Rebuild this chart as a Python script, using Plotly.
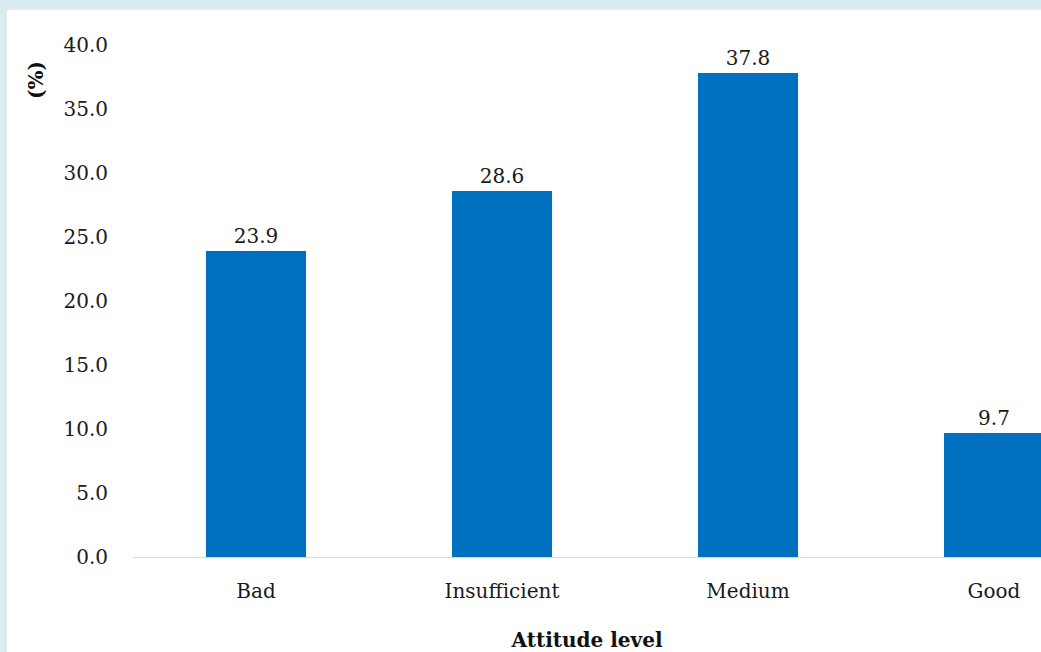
import plotly.graph_objects as go

# Attitude level distribution (%)
levels = ["Bad", "Insufficient", "Medium", "Good"]
percent = [23.9, 28.6, 37.8, 9.7]
y_ticks = [0, 5, 10, 15, 20, 25, 30, 35, 40]

W, H = 1041, 652
ML, MR, MT, MB = 133, 0, 45, 95
pw, ph = W - ML - MR, H - MT - MB
unit = 246.0  # pixels per category band
x_hi = -0.5 + pw / unit

serif = "DejaVu Serif"
FS = 20

fig = go.Figure(
    go.Bar(
        x=list(range(len(levels))),
        y=percent,
        width=0.41,
        marker=dict(color="#0070C0", line=dict(width=0)),
        text=[f"{v:.1f}" for v in percent],
        textposition="outside",
        textfont=dict(family=serif, size=FS, color="#1a1a1a"),
        cliponaxis=False,
    )
)

# white panel on the light-blue page
fig.add_shape(
    type="rect", xref="paper", yref="paper", layer="below",
    x0=(7 - ML) / pw, x1=1.01, y0=-(MB + 5) / ph, y1=(ph + MT - 10) / ph,
    fillcolor="white", line=dict(width=0),
)

fig.add_annotation(
    text="<b>(%)</b>", xref="paper", yref="paper",
    x=(36 - ML) / pw, y=(557 - 80) / ph, showarrow=False, textangle=-90,
    xanchor="center", yanchor="middle",
    font=dict(family=serif, size=FS, color="#111"),
)

fig.update_layout(
    width=W, height=H,
    margin=dict(l=ML, r=MR, t=MT, b=MB),
    paper_bgcolor="#DAECF2",
    plot_bgcolor="white",
    showlegend=False,
    bargap=0,
    xaxis=dict(
        range=[-0.5, x_hi],
        tickmode="array",
        tickvals=list(range(len(levels))),
        ticktext=levels,
        showgrid=False,
        zeroline=False,
        showline=True,
        linecolor="#D9D9D9",
        linewidth=1,
        ticks="",
        ticklabelstandoff=16,
        tickfont=dict(family=serif, size=FS, color="#1a1a1a"),
        title=dict(text="<b>Attitude level</b>", standoff=31,
                   font=dict(family=serif, size=FS, color="#111")),
    ),
    yaxis=dict(
        range=[0, 40],
        tickmode="array",
        tickvals=y_ticks,
        ticktext=[f"{v:.1f}" for v in y_ticks],
        showgrid=False,
        zeroline=False,
        showline=False,
        ticks="",
        ticklabelstandoff=24,
        tickfont=dict(family=serif, size=FS, color="#1a1a1a"),
    ),
)

fig.write_html("out.html")
